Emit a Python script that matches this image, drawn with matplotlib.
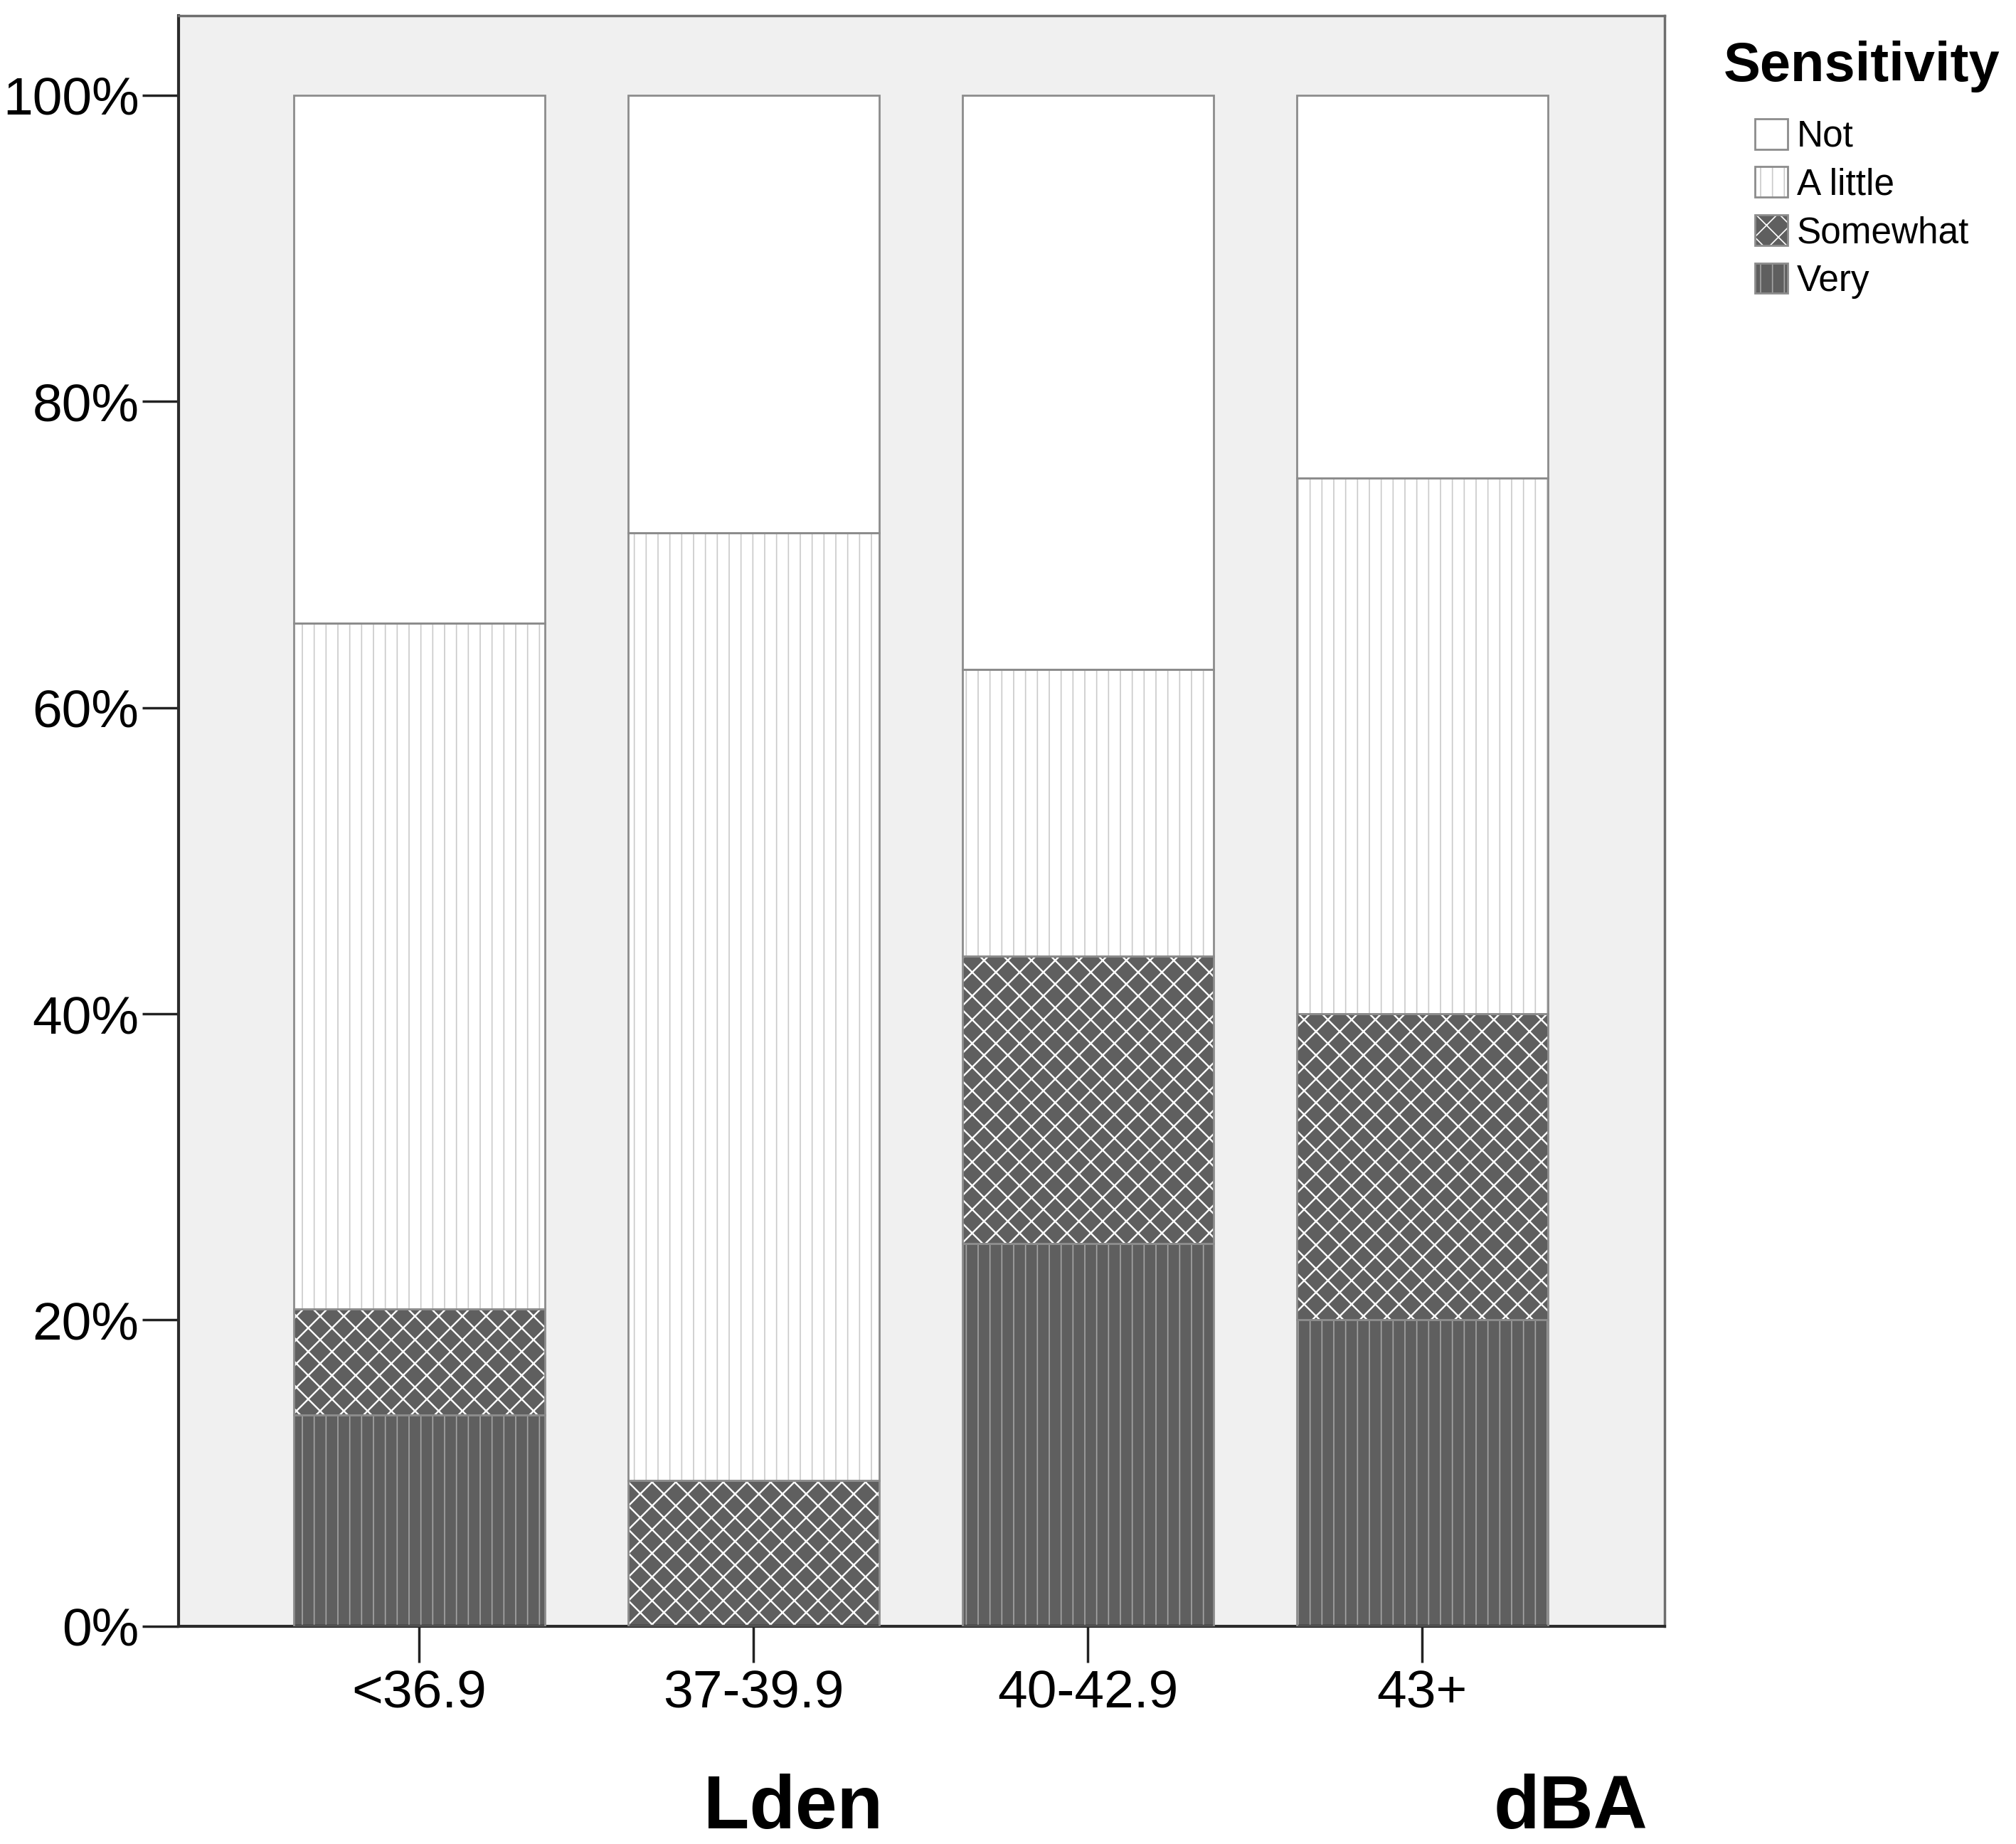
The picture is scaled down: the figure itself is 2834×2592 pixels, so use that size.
import matplotlib
matplotlib.use("Agg")
import matplotlib.pyplot as plt
from matplotlib.patches import Patch
from matplotlib.legend_handler import HandlerTuple
import numpy as np

plt.rcParams['font.family'] = ['Liberation Sans', 'DejaVu Sans']
plt.rcParams['hatch.linewidth'] = 1.2

# data (percent of respondents per noise band)
categories = ['<36.9', '37-39.9', '40-42.9', '43+']
levels = ['Not', 'A little', 'Somewhat', 'Very']
very = [13.8, 0.0, 25.0, 20.0]
somewhat = [6.9, 9.5, 18.75, 20.0]
a_little = [44.8, 61.9, 18.75, 35.0]
not_sens = [34.5, 28.6, 37.5, 25.0]

# look of each stack segment: fill, hatch, hatch colour, hatch width
styles = {
    'Very': ('#5f5f5f', '|', '#a4a4a4', 1.2),
    'Somewhat': ('#5f5f5f', 'x', '#ffffff', 1.7),
    'A little': ('#ffffff', '|', '#cacaca', 1.2),
    'Not': ('#ffffff', '', '#ffffff', 1.2),
}
outline = '#8c8c8c'

fig = plt.figure(figsize=(28.34, 25.92), dpi=100)
ax = fig.add_axes([0.0886, 0.1181, 0.7371, 0.8734])
ax.set_facecolor('#f0f0f0')

x = np.arange(len(categories))
w = 0.75
bottom = np.zeros(len(categories))
for name, vals in [('Very', very), ('Somewhat', somewhat),
                   ('A little', a_little), ('Not', not_sens)]:
    face, hatch, hcol, hlw = styles[name]
    with plt.rc_context({'hatch.linewidth': hlw}):
        ax.bar(x, vals, w, bottom=bottom, color=face, edgecolor=hcol,
               hatch=hatch, linewidth=0, zorder=2)
    ax.bar(x, vals, w, bottom=bottom, fill=False, edgecolor=outline,
           linewidth=2, zorder=3)
    bottom += np.array(vals)

ax.set_xlim(-0.72, 3.725)
ax.set_ylim(0, 105.2)
ax.set_xticks(x)
ax.set_xticklabels(categories)
ax.set_yticks([0, 20, 40, 60, 80, 100])
ax.set_yticklabels(['0%', '20%', '40%', '60%', '80%', '100%'])
ax.tick_params(axis='both', length=37, width=2.5, color='#222222',
               labelsize=54, labelcolor='black')
ax.tick_params(axis='y', pad=3)
ax.tick_params(axis='x', pad=7)

for s in ['top', 'right']:
    ax.spines[s].set_color('#6e6e6e')
    ax.spines[s].set_linewidth(2.5)
for s in ['left', 'bottom']:
    ax.spines[s].set_color('#2b2b2b')
    ax.spines[s].set_linewidth(3)

fig.text(0.3934, 0.0085, 'Lden', ha='center', va='baseline',
         fontsize=76, fontweight='bold')
fig.text(0.779, 0.0085, 'dBA', ha='center', va='baseline',
         fontsize=76, fontweight='bold')

# legend
fig.text(0.855, 0.956, 'Sensitivity', fontsize=56, fontweight='bold',
         va='baseline', ha='left')
handles = []
for name in levels:
    face, hatch, hcol, hlw = styles[name]
    with plt.rc_context({'hatch.linewidth': hlw}):
        fill_patch = Patch(facecolor=face, edgecolor=hcol, hatch=hatch, linewidth=0)
    handles.append((fill_patch, Patch(fill=False, edgecolor=outline, linewidth=2)))
fig.legend(handles, levels, loc='upper left', bbox_to_anchor=(0.8705, 0.9356),
           frameon=False, fontsize=37, handlelength=0.9, handleheight=0.9,
           handletextpad=0.25, labelspacing=0.34, borderpad=0, borderaxespad=0,
           handler_map={tuple: HandlerTuple(ndivide=1)})

fig.savefig('out.png', dpi=100)
